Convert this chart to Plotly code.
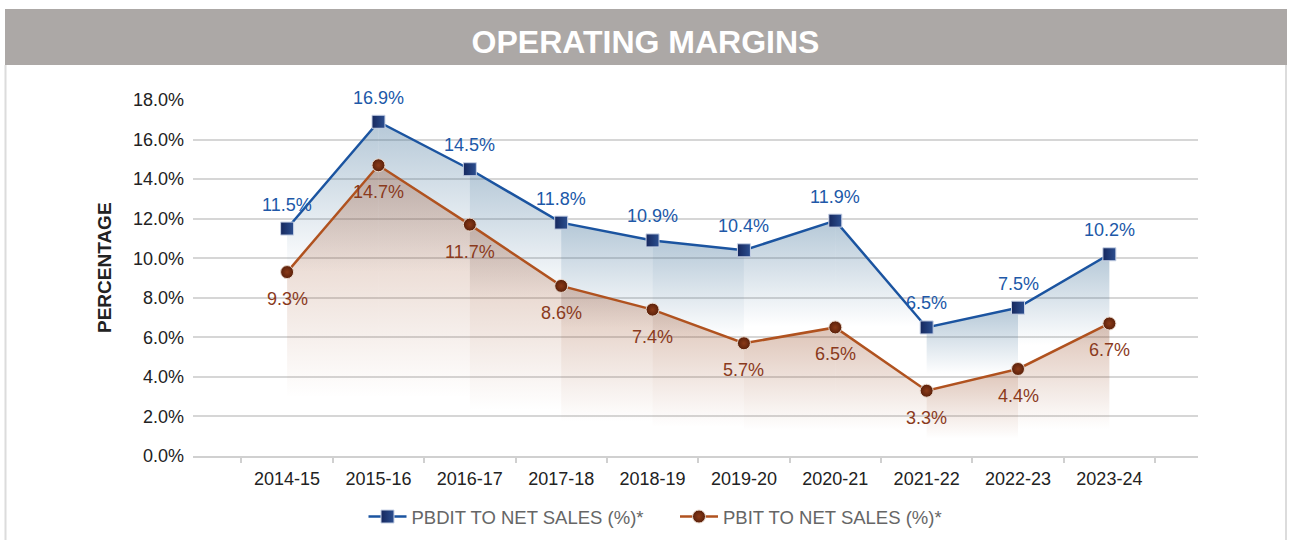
import plotly.graph_objects as go

categories = ["2014-15", "2015-16", "2016-17", "2017-18", "2018-19",
              "2019-20", "2020-21", "2021-22", "2022-23", "2023-24"]
pbdit = [11.5, 16.9, 14.5, 11.8, 10.9, 10.4, 11.9, 6.5, 7.5, 10.2]
pbit = [9.3, 14.7, 11.7, 8.6, 7.4, 5.7, 6.5, 3.3, 4.4, 6.7]
y_ticks = [0, 2, 4, 6, 8, 10, 12, 14, 16, 18]
series_names = ["PBDIT TO NET SALES (%)*", "PBIT TO NET SALES (%)*"]

BLUE_LINE = "#1b54a0"
BLUE_MARK = "#16285e"
BLUE_MARK2 = "#2c4f90"
BLUE_TEXT = "#2058a8"
ORG_LINE = "#b0521f"
ORG_MARK = "#5a200a"
ORG_MARK2 = "#8a3a18"
ORG_TEXT = "#8a3a1c"
FONT = "Liberation Sans, Arial, sans-serif"

fig = go.Figure()


def add_band(vals, rgb, top_alpha, frac):
    for i in range(len(vals) - 1):
        a, b = vals[i], vals[i + 1]
        hi = max(a, b)
        base = hi * frac
        fig.add_trace(go.Scatter(
            x=[categories[i], categories[i + 1], categories[i + 1], categories[i], categories[i]],
            y=[a, b, base, base, a],
            mode="lines", line=dict(width=0), fill="toself",
            fillgradient=dict(
                type="vertical", start=base, stop=hi,
                colorscale=[[0, f"rgba({rgb},0.0)"], [1, f"rgba({rgb},{top_alpha})"]]),
            showlegend=False, hoverinfo="skip"))


add_band(pbdit, "60,110,150", 0.38, 0.55)
add_band(pbit, "150,70,30", 0.32, 0.2)

fig.add_trace(go.Scatter(
    x=categories, y=pbdit, name=series_names[0], mode="lines+markers",
    line=dict(color=BLUE_LINE, width=2.5),
    marker=dict(symbol="square", size=13, color=BLUE_MARK,
                gradient=dict(type="horizontal", color=BLUE_MARK2),
                line=dict(color="#c8d2e6", width=1))))
fig.add_trace(go.Scatter(
    x=categories, y=pbit, name=series_names[1], mode="lines+markers",
    line=dict(color=ORG_LINE, width=2.5),
    marker=dict(symbol="circle", size=13, color=ORG_MARK,
                gradient=dict(type="radial", color=ORG_MARK2),
                line=dict(color="#e8d8cc", width=1))))

L, R, T, B = 193, 1198, 100, 456
W, H = R - L, B - T


def px_x(p):
    return (p - L) / W


def px_y(p):
    return (B - p) / H


annotations = []
for c, v in zip(categories, pbdit):
    annotations.append(dict(x=c, y=v, text=f"{v:.1f}%", showarrow=False, yshift=24,
                            font=dict(family=FONT, size=18, color=BLUE_TEXT)))
for c, v in zip(categories, pbit):
    annotations.append(dict(x=c, y=v, text=f"{v:.1f}%", showarrow=False, yshift=-27,
                            font=dict(family=FONT, size=18, color=ORG_TEXT)))

annotations.append(dict(xref="paper", yref="paper", x=px_x(104), y=px_y(268),
                        xanchor="center", yanchor="middle",
                        text="<b>PERCENTAGE</b>", textangle=-90, showarrow=False,
                        font=dict(family=FONT, size=19, color="#222222")))

shapes = [
    dict(type="rect", xref="paper", yref="paper", layer="below",
         x0=px_x(5), x1=px_x(1287), y0=px_y(65), y1=px_y(9),
         fillcolor="#aca8a6", line=dict(width=0)),
    dict(type="line", xref="paper", yref="paper", layer="below",
         x0=px_x(5.5), x1=px_x(5.5), y0=px_y(65), y1=px_y(545),
         line=dict(color="#dcdcdc", width=2)),
    dict(type="line", xref="paper", yref="paper", layer="below",
         x0=px_x(1286), x1=px_x(1286), y0=px_y(65), y1=px_y(545),
         line=dict(color="#dcdcdc", width=2)),
]

fig.update_layout(
    width=1291, height=540,
    margin=dict(l=L, r=1291 - R, t=T, b=540 - B, autoexpand=False),
    paper_bgcolor="white", plot_bgcolor="white",
    font=dict(family=FONT, size=18, color="#222222"),
    title=dict(text="<b>OPERATING MARGINS</b>", x=0.5, xref="container", xanchor="center",
               y=1 - 42 / 540, yref="container", yanchor="middle",
               font=dict(family=FONT, size=32, color="white")),
    xaxis=dict(type="category", categoryorder="array", categoryarray=categories,
               range=[-1.03, len(categories) - 0.03], showgrid=False, zeroline=False,
               showline=True, linecolor="#d0d0d0", linewidth=2,
               ticks="outside", tickson="boundaries", ticklen=5, tickwidth=2,
               tickcolor="#d0d0d0", ticklabelstandoff=5,
               tickfont=dict(family=FONT, size=18, color="#222222"),
               fixedrange=True),
    yaxis=dict(range=[0, 18], tickvals=y_ticks,
               ticktext=[f"{v:.1f}%" for v in y_ticks],
               showgrid=True, gridcolor="#d6d6d6", gridwidth=1.5, zeroline=False,
               showline=False, ticklabelstandoff=8,
               tickfont=dict(family=FONT, size=18, color="#222222"), fixedrange=True),
    legend=dict(orientation="h", x=px_x(363.5), xanchor="left", y=px_y(517), yanchor="middle",
                font=dict(family=FONT, size=18.5, color="#666666"),
                itemwidth=38,
                entrywidth=258.5, entrywidthmode="pixels", bgcolor="rgba(0,0,0,0)"),
    showlegend=True,
    annotations=annotations,
    shapes=shapes,
)

fig.write_html("out.html", config={"displayModeBar": False},
               post_script="document.body.style.margin='0';document.body.style.padding='0';")
